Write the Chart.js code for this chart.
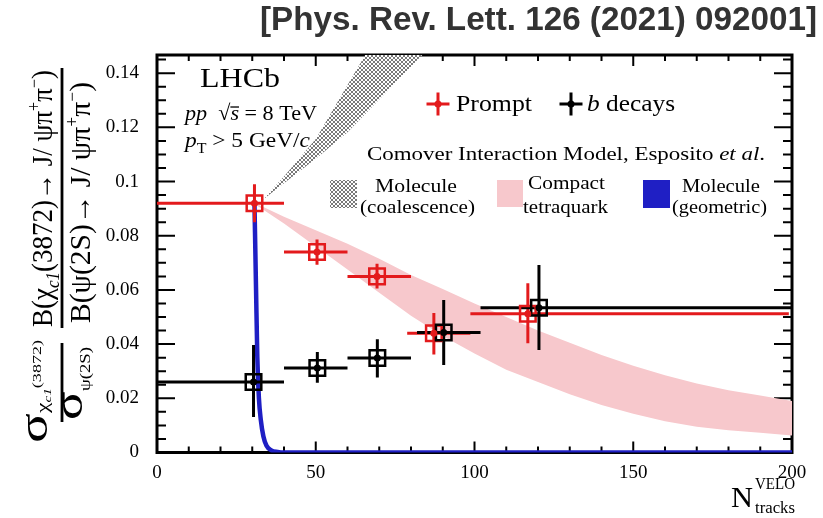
<!DOCTYPE html>
<html>
<head>
<meta charset="utf-8">
<script src="https://cdn.jsdelivr.net/npm/chart.js@4.4.1/dist/chart.umd.min.js"></script>
<style>
  html, body { margin: 0; padding: 0; background: #fff; }
  #wrap { width: 823px; height: 518px; }
</style>
</head>
<body>
<div id="wrap"><canvas id="chart" width="823" height="518"></canvas></div>
<script>
// Prompt points (red)
var promptX = [30.7, 50.4, 69.3, 87.2, 116.8];
var promptXLo = [0, 40, 60, 78.8, 98.7];
var promptXHi = [40, 60, 80, 98.7, 199];
var promptY = [0.092, 0.074, 0.065, 0.044, 0.0512];
var promptYLo = [0.085, 0.0693, 0.0605, 0.0362, 0.0403];
var promptYHi = [0.099, 0.0786, 0.0697, 0.0515, 0.0625];

// b decays points (black)
var bX = [30.4, 50.5, 69.4, 90.3, 120.3];
var bXLo = [0, 40, 60, 81.9, 101.9];
var bXHi = [40, 60, 80, 101.9, 200];
var bY = [0.026, 0.0312, 0.0349, 0.0443, 0.0534];
var bYLo = [0.0131, 0.0257, 0.0277, 0.0323, 0.0378];
var bYHi = [0.0397, 0.0371, 0.0418, 0.0563, 0.0692];

// Comover model bands
var tetraX = [31, 40, 50, 60, 70, 80, 90, 100, 110, 120, 130, 140, 150, 160, 170, 180, 190, 200];
var tetraHi = [0.092, 0.087, 0.082, 0.077, 0.0715, 0.0655, 0.0603, 0.055, 0.050, 0.045, 0.0405, 0.036, 0.032, 0.0285, 0.0255, 0.023, 0.021, 0.019];
var tetraLo = [0.0915, 0.0845, 0.076, 0.0675, 0.059, 0.0505, 0.043, 0.0365, 0.0305, 0.026, 0.0215, 0.0175, 0.0143, 0.0115, 0.0095, 0.0082, 0.0073, 0.0063];

var coalX = [33, 40, 50, 60, 70, 80, 90, 100];
var coalHi = [0.093, 0.1019, 0.1157, 0.1356, 0.1556, 0.1756, 0.1956, 0.2156];
var coalLo = [0.093, 0.0994, 0.1084, 0.1182, 0.1303, 0.1424, 0.1545, 0.1666];

var geomX = [30.7, 31.2, 31.6, 32.1, 32.7, 33.5, 34.5, 36, 38, 40, 200];
var geomY = [0.092, 0.06, 0.035, 0.02, 0.012, 0.006, 0.0025, 0.0008, 0.0002, 0, 0];

var xTicks = [0, 50, 100, 150, 200];
var yTicks = [0, 0.02, 0.04, 0.06, 0.08, 0.1, 0.12, 0.14];

var RED = '#e31a1c', BLUE = '#1f1fc4', PINK = '#f7c8cc';
var SERIF = '"Liberation Serif", "Times New Roman", serif';

function pts(xs, ys) {
    return xs.map(function (x, i) { return { x: x, y: ys[i] }; });
}

// cross hatch for the coalescence band
function hatch() {
    var c = document.createElement('canvas');
    c.width = 4; c.height = 4;
    var g = c.getContext('2d');
    g.fillStyle = '#fff';
    g.fillRect(0, 0, 4, 4);
    g.fillStyle = '#7a7a7a';
    [[0, 0], [1, 1], [2, 2], [3, 3], [3, 0], [2, 1], [1, 2], [0, 3]].forEach(function (p) {
        g.fillRect(p[0], p[1], 1, 1);
    });
    return g.createPattern(c, 'repeat');
}
var grayPattern = hatch();

function errorBars(xs, xlo, xhi, ys, ylo, yhi, color) {
    var out = [];
    for (var i = 0; i < xs.length; i++) {
        out.push({ data: [{ x: xlo[i], y: ys[i] }, { x: xhi[i], y: ys[i] }] });
        out.push({ data: [{ x: xs[i], y: ylo[i] }, { x: xs[i], y: yhi[i] }] });
    }
    return out.map(function (d) {
        d.borderColor = color; d.borderWidth = 3; d.pointRadius = 0;
        d.fill = false; d.order = 3;
        return d;
    });
}

var datasets = [
    { data: pts(coalX, coalHi), fill: '+1', backgroundColor: grayPattern, borderWidth: 0, pointRadius: 0, order: 10 },
    { data: pts(coalX, coalLo), fill: false, borderWidth: 0, pointRadius: 0, order: 10 },
    { data: pts(tetraX, tetraHi), fill: '+1', backgroundColor: PINK, borderWidth: 0, pointRadius: 0, order: 10 },
    { data: pts(tetraX, tetraLo), fill: false, borderWidth: 0, pointRadius: 0, order: 10 },
    { data: pts(geomX, geomY), fill: false, borderColor: BLUE, borderWidth: 4.5, pointRadius: 0,
      cubicInterpolationMode: 'monotone', order: 6 }
];
datasets = datasets.concat(errorBars(bX, bXLo, bXHi, bY, bYLo, bYHi, '#000'));
datasets = datasets.concat(errorBars(promptX, promptXLo, promptXHi, promptY, promptYLo, promptYHi, RED));
// open squares
datasets.push({ data: pts(bX, bY), showLine: false, pointStyle: 'rect', pointRadius: 11, pointBorderWidth: 2.5,
    pointBorderColor: '#000', pointBackgroundColor: 'rgba(0,0,0,0)', order: 1 });
datasets.push({ data: pts(promptX, promptY), showLine: false, pointStyle: 'rect', pointRadius: 11, pointBorderWidth: 2.5,
    pointBorderColor: RED, pointBackgroundColor: 'rgba(0,0,0,0)', order: 1 });
// centre dots
datasets.push({ data: pts(bX, bY), showLine: false, pointStyle: 'circle', pointRadius: 3.5, pointBorderWidth: 0,
    pointBackgroundColor: '#000', order: 0 });
datasets.push({ data: pts(promptX, promptY), showLine: false, pointStyle: 'circle', pointRadius: 3.5, pointBorderWidth: 0,
    pointBackgroundColor: RED, order: 0 });

// rich text: segments {t, i, s, dy, bar}, fitted to width
function rich(ctx, segs, x, y, width, align) {
    var parts = segs.map(function (s) {
        var font = (s.i ? 'italic ' : '') + (s.b ? 'bold ' : '') + s.s + 'px ' + (s.f || SERIF);
        ctx.font = font;
        return { t: s.t, font: font, w: ctx.measureText(s.t).width, dy: s.dy || 0, bar: s.bar, s: s.s };
    });
    var total = parts.reduce(function (a, p) { return a + p.w; }, 0);
    var sx = width ? width / total : 1;
    var x0 = align === 'center' ? x - width / 2 : x;
    ctx.save();
    ctx.translate(x0, y);
    ctx.scale(sx, 1);
    ctx.textBaseline = 'alphabetic';
    ctx.textAlign = 'left';
    var cx = 0;
    parts.forEach(function (p) {
        ctx.font = p.font;
        ctx.fillText(p.t, cx, p.dy);
        if (p.bar) ctx.fillRect(cx, p.dy - p.s * 0.62, p.w, 1.3);
        cx += p.w;
    });
    ctx.restore();
}

function cross(ctx, x, y, color) {
    ctx.save();
    ctx.strokeStyle = color; ctx.fillStyle = color; ctx.lineWidth = 3;
    ctx.beginPath();
    ctx.moveTo(x - 11.5, y); ctx.lineTo(x + 11.5, y);
    ctx.moveTo(x, y - 11.5); ctx.lineTo(x, y + 11.5);
    ctx.stroke();
    ctx.beginPath(); ctx.arc(x, y, 3.5, 0, Math.PI * 2); ctx.fill();
    ctx.restore();
}

var framePlugin = {
    id: 'frame',
    beforeDatasetsDraw: function (chart) {
        var ctx = chart.ctx, a = chart.chartArea, xs = chart.scales.x, ys = chart.scales.y;
        ctx.save();
        ctx.strokeStyle = '#000';
        ctx.lineWidth = 2;
        ctx.beginPath();
        for (var v = 0; v <= 200; v += 10) {
            var px = xs.getPixelForValue(v);
            var L = v % 50 === 0 ? 11 : 6;
            ctx.moveTo(px, a.bottom); ctx.lineTo(px, a.bottom - L);
            ctx.moveTo(px, a.top); ctx.lineTo(px, a.top + L);
        }
        for (var k = 0; k * 0.005 <= ys.max; k++) {
            var py = ys.getPixelForValue(k * 0.005);
            var M = k % 4 === 0 ? 18 : 9;
            ctx.moveTo(a.left, py); ctx.lineTo(a.left + M, py);
            ctx.moveTo(a.right, py); ctx.lineTo(a.right - M, py);
        }
        ctx.stroke();
        ctx.lineWidth = 3;
        ctx.strokeRect(a.left, a.top, a.right - a.left, a.bottom - a.top);
        ctx.restore();
    },
    afterDraw: function (chart) {
        var ctx = chart.ctx;
        ctx.save();
        // reference
        ctx.fillStyle = '#333';
        rich(ctx, [{ t: '[Phys. Rev. Lett. 126 (2021) 092001]', b: true, s: 33, f: '"Liberation Sans", Arial, sans-serif' }], 260, 30, 557);

        ctx.fillStyle = '#000';
        rich(ctx, [{ t: 'LHCb', s: 28 }], 200, 87, 80);
        rich(ctx, [{ t: 'pp', i: true, s: 22 }, { t: '  \u221A', s: 22 }, { t: 's', i: true, s: 22, bar: true },
            { t: ' = 8 TeV', s: 22 }], 185, 120, 132);
        rich(ctx, [{ t: 'p', i: true, s: 22 }, { t: 'T', s: 15, dy: 6 }, { t: ' > 5 GeV/', s: 22 },
            { t: 'c', i: true, s: 22 }], 185, 147, 125);

        // legend
        cross(ctx, 438, 104, RED);
        rich(ctx, [{ t: 'Prompt', s: 24 }], 456, 111, 76);
        cross(ctx, 571, 104, '#000');
        rich(ctx, [{ t: 'b', i: true, s: 24 }, { t: ' decays', s: 24 }], 587, 111, 88);
        rich(ctx, [{ t: 'Comover Interaction Model, Esposito ', s: 19 }, { t: 'et al', i: true, s: 19 },
            { t: '.', s: 19 }], 367, 160, 398);

        ctx.fillStyle = grayPattern;
        ctx.fillRect(330, 180, 27, 28);
        ctx.fillStyle = PINK;
        ctx.fillRect(497, 180, 26, 27);
        ctx.fillStyle = BLUE;
        ctx.fillRect(643, 180, 27, 28);
        ctx.fillStyle = '#000';
        rich(ctx, [{ t: 'Molecule', s: 18 }], 416, 192, 82, 'center');
        rich(ctx, [{ t: '(coalescence)', s: 18 }], 417.5, 213, 115, 'center');
        rich(ctx, [{ t: 'Compact', s: 18 }], 566.5, 189, 77, 'center');
        rich(ctx, [{ t: 'tetraquark', s: 18 }], 565.5, 213, 85, 'center');
        rich(ctx, [{ t: 'Molecule', s: 18 }], 721, 192, 78, 'center');
        rich(ctx, [{ t: '(geometric)', s: 18 }], 719.5, 213, 95, 'center');

        // x title
        rich(ctx, [{ t: 'N', s: 30 }], 731, 507, 22);
        rich(ctx, [{ t: 'VELO', s: 17 }], 755, 489, 40);
        rich(ctx, [{ t: 'tracks', s: 17 }], 755, 513, 40);

        // y title (rotated)
        ctx.save();
        ctx.translate(62, 382.5);
        ctx.rotate(-Math.PI / 2);
        ctx.fillRect(-39.5, -1.4, 79, 2.8);
        rich(ctx, [{ t: '\u03C3', s: 40 }, { t: '\u03C7', s: 17, dy: 1 }, { t: 'c1', i: true, s: 11, dy: 4 },
            { t: '(3872)', s: 13, dy: -6 }], -60.5, -15, 103);
        rich(ctx, [{ t: '\u03C3', s: 40 }, { t: '\u03C8(2S)', s: 14, dy: 8 }], -37.5, 20, 73);
        ctx.restore();

        ctx.save();
        ctx.translate(62, 198);
        ctx.rotate(-Math.PI / 2);
        ctx.fillRect(-130, -1.4, 260, 2.8);
        rich(ctx, [{ t: 'B(\u03C7', s: 30 }, { t: 'c1', i: true, s: 19, dy: 7 }, { t: '(3872)\u2192 J/ \u03C8\u03C0', s: 30 },
            { t: '+', s: 18, dy: -12 }, { t: '\u03C0', s: 30 }, { t: '\u2212', s: 18, dy: -12 }, { t: ')', s: 30 }],
            -129, -10, 257);
        rich(ctx, [{ t: 'B(\u03C8(2S)\u2192 J/ \u03C8\u03C0', s: 30 }, { t: '+', s: 18, dy: -12 }, { t: '\u03C0', s: 30 },
            { t: '\u2212', s: 18, dy: -12 }, { t: ')', s: 30 }], -125, 28, 241);
        ctx.restore();

        ctx.restore();
    }
};

var tickFont = { family: SERIF, size: 19 };

new Chart(document.getElementById('chart').getContext('2d'), {
    type: 'line',
    data: { datasets: datasets },
    options: {
        responsive: false,
        animation: false,
        devicePixelRatio: 1,
        events: [],
        layout: { padding: { top: 55, right: 31, left: 0, bottom: 0 } },
        plugins: { legend: { display: false }, tooltip: { enabled: false } },
        scales: {
            x: {
                type: 'linear', min: 0, max: 200,
                grid: { display: false }, border: { display: false },
                ticks: {
                    stepSize: 10, autoSkip: false, maxRotation: 0, padding: 1,
                    color: '#000', font: tickFont,
                    callback: function (v) { return xTicks.indexOf(v) >= 0 ? String(v) : ''; }
                },
                afterFit: function (s) { s.height = 65.5; }
            },
            y: {
                type: 'linear', min: 0, max: 0.1467,
                grid: { display: false }, border: { display: false },
                ticks: {
                    stepSize: 0.005, autoSkip: false, padding: 10,
                    color: '#000', font: tickFont,
                    callback: function (v) {
                        var r = Math.round(v * 1000) / 1000;
                        return yTicks.indexOf(r) >= 0 && Math.abs(v - r) < 1e-6 ? String(r) : '';
                    }
                },
                afterFit: function (s) { s.width = 157; }
            }
        }
    },
    plugins: [framePlugin]
});
</script>
</body>
</html>
